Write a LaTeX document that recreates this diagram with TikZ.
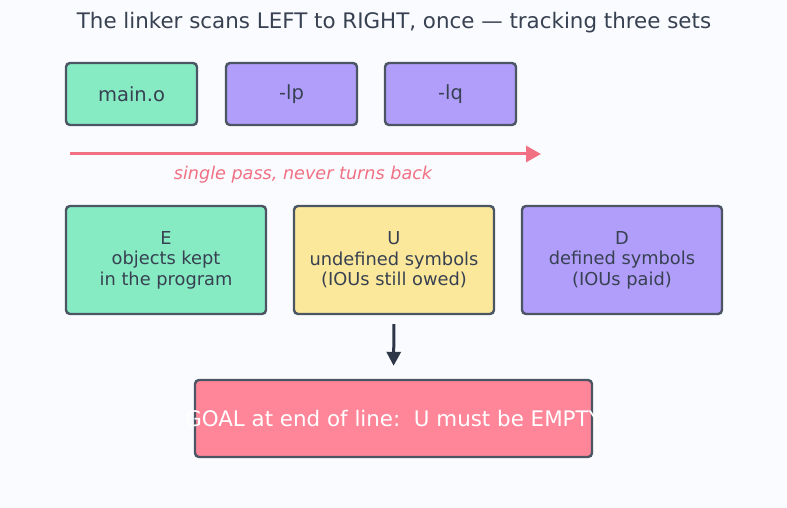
\documentclass[tikz,border=0pt]{standalone}
\usepackage{fontspec}
\setmainfont{DejaVu Sans}
\usetikzlibrary{arrows.meta}

\definecolor{page_bg}{RGB}{250,251,254}
\definecolor{ink_slate}{RGB}{55,65,81}
\definecolor{edge_slate}{RGB}{75,85,99}
\definecolor{arrow_dark}{RGB}{45,55,72}
\definecolor{mint_obj}{RGB}{134,234,195}
\definecolor{lilac_lib}{RGB}{176,158,250}
\definecolor{sand_set}{RGB}{252,232,154}
\definecolor{rose_goal}{RGB}{255,133,153}
\definecolor{rose_pass}{RGB}{241,112,132}

\begin{document}
\begin{tikzpicture}[
    x=1pt, y=-1pt,
    box/.style={rectangle, draw=edge_slate, line width=2.4pt, rounded corners=4pt,
                inner sep=0pt, text=ink_slate},
    input/.style={box, minimum width=131pt, minimum height=62pt,
                  font=\fontsize{19.5}{23}\selectfont},
    symset/.style={box, minimum width=200pt, minimum height=108pt, align=center,
                   font=\fontsize{17.8}{20.6}\selectfont}
]

    % page
    \fill[page_bg] (0,0) rectangle (787,508);

    % Title
    \node[text=ink_slate, font=\fontsize{21.4}{25}\selectfont] (title) at (394, 23)
        {The linker scans LEFT to RIGHT, once — tracking three sets};

    % Command line inputs
    \node[input, fill=mint_obj]  (maino) at (131.5, 94) {main.o};
    \node[input, fill=lilac_lib] (libp)  at (291.5, 94) {-lp};
    \node[input, fill=lilac_lib] (libq)  at (450.5, 94) {-lq};

    % One pass, left to right
    \coordinate (passL) at (70, 154);
    \coordinate (passR) at (541, 154);
    \draw[-{Triangle[length=15pt, width=16pt]}, line width=3pt, rose_pass] (passL) -- (passR);
    \node[text=rose_pass, font=\fontsize{17.6}{21}\selectfont\itshape] (passlbl) at (303, 175)
        {single pass, never turns back};

    % The three sets
    \node[symset, fill=mint_obj]  (setE) at (166, 260) {E\\objects kept\\in the program};
    \node[symset, fill=sand_set]  (setU) at (394, 260) {U\\undefined symbols\\(IOUs still owed)};
    \node[symset, fill=lilac_lib] (setD) at (622, 260) {D\\defined symbols\\(IOUs paid)};

    % Goal
    \node[box, fill=rose_goal, minimum width=397pt, minimum height=77pt, text=white,
          font=\fontsize{21.4}{25}\selectfont] (goal) at (393.5, 418.5)
        {\makebox[0pt]{GOAL at end of line:\ \ U must be EMPTY}};

    \draw[-{Triangle[length=14pt, width=14pt]}, line width=3pt, arrow_dark,
          shorten <=9pt, shorten >=13pt] (setU.south) -- (goal.north);

\end{tikzpicture}
\end{document}
